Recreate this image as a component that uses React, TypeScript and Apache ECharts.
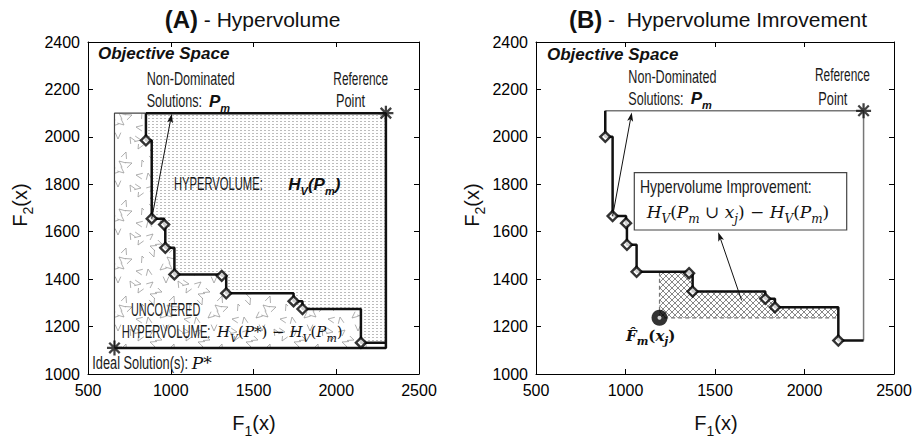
import React, { useEffect, useRef } from "react";
import * as echarts from "echarts";

// Axis ranges
const X_MIN = 500, X_MAX = 2500, X_STEP = 500;
const Y_MIN = 1000, Y_MAX = 2400, Y_STEP = 200;

// Panel A - Hypervolume
const A_F1 = [850, 885, 960, 967, 1022, 1308, 1335, 1742, 1796, 2149];
const A_F2 = [1985, 1655, 1630, 1532, 1420, 1414, 1340, 1307, 1274, 1132];
const A_REF = [2300, 2100];
const A_IDEAL = [660, 1110];
const A_ARROW = [885, 1655, 1006, 2097];

// Panel B - Hypervolume improvement
const B_F1 = [887, 928, 1003, 1008, 1062, 1355, 1375, 1781, 1835, 2189];
const B_F2 = [2000, 1666, 1636, 1545, 1431, 1425, 1348, 1317, 1281, 1141];
const B_REF = [2330, 2110];
const B_FM = [1190, 1237];
const B_ARROW = [928, 1666, 1035, 2103];
const B_BOX_ARROW = [1649, 1310, 1518, 1598];

const SANS = "'Liberation Sans', Arial, Helvetica, sans-serif";
const SERIF = "'DejaVu Serif', 'Liberation Serif', serif";

function stair(xs: number[], ys: number[], refX: number, refY: number) {
  const pts: number[][] = [[xs[0], refY]];
  for (let i = 0; i < xs.length; i++) {
    if (i > 0) pts.push([xs[i], ys[i - 1]]);
    pts.push([xs[i], ys[i]]);
  }
  pts.push([refX, ys[ys.length - 1]]);
  return pts;
}

function hviPolygon(xs: number[], ys: number[], fx: number, fy: number, refX: number) {
  const pts: number[][] = [[fx, fy]];
  let i = 0;
  for (let k = 0; k < xs.length; k++) if (xs[k] <= fx) i = k;
  pts.push([fx, ys[i]]);
  for (let k = i + 1; k < xs.length; k++) {
    pts.push([xs[k], ys[k - 1]]);
    if (ys[k] <= fy) {
      pts.push([xs[k], fy]);
      return pts;
    }
    pts.push([xs[k], ys[k]]);
  }
  pts.push([refX, ys[ys.length - 1]]);
  pts.push([refX, fy]);
  return pts;
}

function makeTile(w: number, h: number, draw: (ctx: CanvasRenderingContext2D) => void) {
  const c = document.createElement("canvas");
  c.width = w;
  c.height = h;
  const ctx = c.getContext("2d")!;
  ctx.fillStyle = "#fff";
  ctx.fillRect(0, 0, w, h);
  draw(ctx);
  return { image: c, repeat: "repeat", imageWidth: w, imageHeight: h } as any;
}

// texture glyphs (position in tile, orientation in degrees)
const CHEVRONS = [
  [6, 6, 20], [18, 4, 200], [30, 8, 110], [42, 5, 300],
  [10, 17, 250], [23, 17, 40], [36, 19, 160], [46, 16, 70],
  [4, 29, 80], [16, 30, 320], [28, 29, 220], [40, 31, 10],
  [9, 42, 140], [22, 43, 270], [34, 41, 60], [45, 44, 190],
];

const STAR =
  "path://M-0.9,-6L0.9,-6L0.9,6L-0.9,6Z M-6,-0.9L6,-0.9L6,0.9L-6,0.9Z M-3.55,-4.83L4.83,3.55L3.55,4.83L-4.83,-3.55Z M4.83,-3.55L-3.55,4.83L-4.83,3.55L3.55,-4.83Z";

function arrowRender(_p: any, api: any) {
  const p1 = api.coord([api.value(0), api.value(1)]);
  const p2 = api.coord([api.value(2), api.value(3)]);
  const dx = p2[0] - p1[0], dy = p2[1] - p1[1];
  const L = Math.hypot(dx, dy);
  const ux = dx / L, uy = dy / L;
  const hl = 9, hw = 3;
  const bx = p2[0] - ux * hl, by = p2[1] - uy * hl;
  return {
    type: "group",
    children: [
      { type: "line", shape: { x1: p1[0], y1: p1[1], x2: bx + ux * 2, y2: by + uy * 2 }, style: { stroke: "#111", lineWidth: 1 } },
      {
        type: "polygon",
        shape: { points: [[p2[0], p2[1]], [bx - uy * hw, by + ux * hw], [bx + ux * 2, by + uy * 2], [bx + uy * hw, by - ux * hw]] },
        style: { fill: "#111" },
      },
    ],
  };
}

function polySeries(xi: number, poly: number[][], style: any, z: number) {
  return {
    type: "custom",
    xAxisIndex: xi,
    yAxisIndex: xi,
    z,
    silent: true,
    data: [poly[0]],
    renderItem: (_p: any, api: any) => ({
      type: "polygon",
      shape: { points: poly.map((p) => api.coord(p)) },
      style,
    }),
  };
}

function lineSeries(xi: number, pts: number[][], color: string, width: number, z = 3) {
  return {
    type: "line",
    xAxisIndex: xi,
    yAxisIndex: xi,
    data: pts,
    symbol: "none",
    silent: true,
    z,
    lineStyle: { color, width },
  };
}

function axes(grid: number) {
  const tick = { show: true, inside: true, length: 5, lineStyle: { color: "#000" } };
  const line = { show: true, onZero: false, lineStyle: { color: "#000", width: 1 } };
  const label = { color: "#000", fontSize: 16, fontFamily: SANS, margin: 8, formatter: (v: number) => String(v) };
  const x = (pos: string, show: boolean) => ({
    type: "value", gridIndex: grid, position: pos, min: X_MIN, max: X_MAX, interval: X_STEP,
    axisLine: line, axisTick: tick, axisLabel: { ...label, show }, splitLine: { show: false },
  });
  const y = (pos: string, show: boolean) => ({
    type: "value", gridIndex: grid, position: pos, min: Y_MIN, max: Y_MAX, interval: Y_STEP,
    axisLine: line, axisTick: tick, axisLabel: { ...label, show }, splitLine: { show: false },
  });
  return { xs: [x("bottom", true), x("top", false)], ys: [y("left", true), y("right", false)] };
}

function cond(text: string, x: number, y: number, scaleX: number, size = 17.5) {
  return {
    type: "text", x, y, scaleX, z: 101,
    style: { text, fontFamily: SANS, fontSize: size, fill: "#1a1a1a", align: "left", verticalAlign: "middle", textAlign: "left", textVerticalAlign: "middle" },
  };
}

function rich(text: string, x: number, y: number, richStyle: any, extra: any = {}) {
  return {
    type: "text", x, y, z: 101, ...extra,
    style: { text, rich: richStyle, fill: "#111", align: extra.align || "left", verticalAlign: "middle", textAlign: extra.align || "left", textVerticalAlign: "middle" },
  };
}

const BI = (size: number, lh: number) => ({ fontFamily: SANS, fontWeight: "bold", fontStyle: "italic", fontSize: size, lineHeight: lh, fill: "#111" });
const BIS = (size: number) => ({ fontFamily: SANS, fontWeight: "bold", fontStyle: "italic", fontSize: size, lineHeight: size, verticalAlign: "bottom", fill: "#111" });
const MI = (size: number, lh: number) => ({ fontFamily: SERIF, fontStyle: "italic", fontSize: size, lineHeight: lh, fill: "#111" });
const MR = (size: number, lh: number) => ({ fontFamily: SERIF, fontSize: size, lineHeight: lh, fill: "#111" });
const MS = (size: number) => ({ fontFamily: SERIF, fontStyle: "italic", fontSize: size, lineHeight: size, verticalAlign: "bottom", fill: "#111" });

const MATH_RICH = { i: MI(17, 26), r: MR(17, 26), s: MS(12) };
const MATH_RICH_S = { i: MI(15, 25), r: MR(15, 25), s: MS(11) };
const PM_RICH = { b: BI(17, 24), s: BIS(11) };
const AXIS_RICH = {
  m: { fontFamily: SANS, fontSize: 20, lineHeight: 30, fill: "#111" },
  s: { fontFamily: SANS, fontSize: 14, lineHeight: 14, verticalAlign: "bottom", fill: "#111" },
};
const TITLE_RICH = {
  b: { fontFamily: SANS, fontSize: 24, fontWeight: "bold", fill: "#111" },
  n: { fontFamily: SANS, fontSize: 21, fill: "#111" },
};
const OBJ_RICH = { o: { fontFamily: SANS, fontWeight: "bold", fontStyle: "italic", fontSize: 17, fill: "#111" } };

export default function App() {
  const ref = useRef<HTMLDivElement>(null);
  useEffect(() => {
    if (!ref.current) return;
    const chart = echarts.init(ref.current, undefined, { renderer: "svg" });

    const dots = makeTile(4, 3, (ctx) => {
      ctx.fillStyle = "#bcbcbc";
      ctx.fillRect(0, 1, 2, 1);
    });
    const tris = makeTile(48, 48, (ctx) => {
      ctx.strokeStyle = "#9a9a9a";
      ctx.lineWidth = 0.8;
      for (const [cx, cy, a] of CHEVRONS) {
        const r = (a * Math.PI) / 180, d = (24 * Math.PI) / 180;
        ctx.beginPath();
        ctx.moveTo(cx + 7 * Math.cos(r - d), cy + 7 * Math.sin(r - d));
        ctx.lineTo(cx, cy);
        ctx.lineTo(cx + 7 * Math.cos(r + d), cy + 7 * Math.sin(r + d));
        ctx.stroke();
      }
    });
    const hatch = makeTile(6, 6, (ctx) => {
      ctx.strokeStyle = "#6a6a6a";
      ctx.lineWidth = 0.8;
      ctx.beginPath();
      ctx.moveTo(-1, -1); ctx.lineTo(7, 7);
      ctx.moveTo(7, -1); ctx.lineTo(-1, 7);
      ctx.stroke();
    });

    const stairA = stair(A_F1, A_F2, A_REF[0], A_REF[1]);
    const stairB = stair(B_F1, B_F2, B_REF[0], B_REF[1]);
    const hvA = [...stairA, [A_REF[0], A_REF[1]]];
    const outerA = [[A_IDEAL[0], A_IDEAL[1]], [A_REF[0], A_IDEAL[1]], [A_REF[0], A_REF[1]], [A_IDEAL[0], A_REF[1]]];
    const hviB = hviPolygon(B_F1, B_F2, B_FM[0], B_FM[1], B_REF[0]);

    const a0 = axes(0), a1 = axes(1);

    const diamonds = (xi: number, xs: number[], ys: number[]) => ({
      type: "scatter", xAxisIndex: xi, yAxisIndex: xi, z: 5, silent: true,
      data: xs.map((x, i) => [x, ys[i]]),
      symbol: "diamond", symbolSize: 10,
      itemStyle: { color: "#fff", borderColor: "#000", borderWidth: 2.4 },
    });

    const option: any = {
      animation: false,
      grid: [
        { left: 88, right: 498, top: 42, bottom: 66 },
        { left: 536, right: 23, top: 42, bottom: 66 },
      ],
      xAxis: [a0.xs[0], a1.xs[0], a0.xs[1], a1.xs[1]],
      yAxis: [a0.ys[0], a1.ys[0], a0.ys[1], a1.ys[1]],
      series: [
        // Panel A
        polySeries(0, outerA, { fill: tris, stroke: "none" }, 1),
        polySeries(0, hvA, { fill: dots, stroke: "none" }, 1),
        lineSeries(0, [[A_IDEAL[0], A_IDEAL[1]], [A_IDEAL[0], A_REF[1]], [A_F1[0], A_REF[1]]], "#444", 1.2),
        lineSeries(0, [[A_F1[0], A_REF[1]], [A_REF[0], A_REF[1]], [A_REF[0], A_IDEAL[1]], [A_IDEAL[0], A_IDEAL[1]]], "#111", 2.5),
        lineSeries(0, stairA, "#111", 2.5),
        diamonds(0, A_F1, A_F2),
        {
          type: "scatter", xAxisIndex: 0, yAxisIndex: 0, z: 6, silent: true,
          data: [A_REF, A_IDEAL], symbol: STAR, symbolSize: 15, itemStyle: { color: "#111" },
        },
        { type: "custom", xAxisIndex: 0, yAxisIndex: 0, z: 6, silent: true, data: [A_ARROW], encode: { x: [0, 2], y: [1, 3] }, renderItem: arrowRender },
        // Panel B
        polySeries(1, hviB, { fill: hatch, stroke: "#777", lineWidth: 1.2, lineDash: [4, 3] }, 1),
        lineSeries(1, [[B_F1[0], B_REF[1]], [B_REF[0], B_REF[1]], [B_REF[0], B_F2[B_F2.length - 1]]], "#777", 1.5),
        lineSeries(1, stairB, "#111", 2.5),
        diamonds(1, B_F1, B_F2),
        {
          type: "scatter", xAxisIndex: 1, yAxisIndex: 1, z: 6, silent: true,
          data: [B_REF], symbol: STAR, symbolSize: 15, itemStyle: { color: "#111" },
        },
        {
          type: "scatter", xAxisIndex: 1, yAxisIndex: 1, z: 6, silent: true,
          data: [B_FM], symbol: "circle", symbolSize: 16, itemStyle: { color: "#000" },
        },
        {
          type: "scatter", xAxisIndex: 1, yAxisIndex: 1, z: 7, silent: true,
          data: [B_FM], symbol: "circle", symbolSize: 4, itemStyle: { color: "#fff" },
        },
        { type: "custom", xAxisIndex: 1, yAxisIndex: 1, z: 6, silent: true, data: [B_ARROW, B_BOX_ARROW], encode: { x: [0, 2], y: [1, 3] }, renderItem: arrowRender },
      ],
      graphic: [
        rich("{b|(A)}{n| - Hypervolume}", 252.5, 19, TITLE_RICH, { align: "center" }),
        rich("{b|(B)}{n| -  Hypervolume Imrovement}", 718, 19, TITLE_RICH, { align: "center" }),
        // Objective space labels
        rich("{o|Objective Space}", 98, 53, OBJ_RICH),
        rich("{o|Objective Space}", 547, 54, OBJ_RICH),
        // Panel A annotations
        cond("Non-Dominated", 146.7, 79, 0.72),
        cond("Solutions:", 146.7, 101, 0.72),
        rich("{b|P}{s|m}", 209, 101, PM_RICH),
        cond("Reference", 333.3, 78.3, 0.68),
        cond("Point", 336, 101, 0.73),
        cond("HYPERVOLUME:", 174, 184, 0.64),
        rich("{b|H}{s|V}{b|(P}{s|m}{b|)}", 288.3, 184, PM_RICH),
        cond("UNCOVERED", 131, 310, 0.62),
        cond("HYPERVOLUME:", 121.7, 331.7, 0.64),
        rich("{i|H}{s|V}{r|(}{i|P}{r|*) − }{i|H}{s|V}{r|(}{i|P}{s|m}{r|)}", 217, 331.7, MATH_RICH_S),
        cond("Ideal Solution(s):", 92.3, 362.7, 0.73),
        rich("{i|P}{r|*}", 191.7, 362.7, MATH_RICH),
        // Panel B annotations
        cond("Non-Dominated", 628.3, 77, 0.72),
        cond("Solutions:", 628.3, 98.3, 0.72),
        rich("{b|P}{s|m}", 690.7, 98.3, PM_RICH),
        cond("Reference", 815, 75, 0.68),
        cond("Point", 818.3, 98.3, 0.73),
        { type: "rect", z: 100, shape: { x: 634.3, y: 172.7, width: 212.4, height: 57.3 }, style: { fill: "#fff", stroke: "#444", lineWidth: 1.2 } },
        cond("Hypervolume Improvement:", 640, 186.7, 0.8),
        rich("{i|H}{s|V}{r|(}{i|P}{s|m}{r| ∪ }{i|x}{s|j}{r|) − }{i|H}{s|V}{r|(}{i|P}{s|m}{r|)}", 646.7, 211.7, MATH_RICH),
        rich("{i|F̂}{s|m}{r|(}{i|x}{s|j}{r|)}", 626, 336, { i: { ...MI(15, 22), fontWeight: "bold" }, r: { ...MR(15, 22), fontWeight: "bold" }, s: { ...MS(11), fontWeight: "bold" } }),
        // Axis names
        rich("{m|F}{s|1}{m|(x)}", 254, 423, AXIS_RICH, { align: "center" }),
        rich("{m|F}{s|1}{m|(x)}", 716, 423, AXIS_RICH, { align: "center" }),
        rich("{m|F}{s|2}{m|(x)}", 20, 205, AXIS_RICH, { align: "center", rotation: Math.PI / 2 }),
        rich("{m|F}{s|2}{m|(x)}", 472, 205, AXIS_RICH, { align: "center", rotation: Math.PI / 2 }),
      ],
    };
    chart.setOption(option);
    return () => chart.dispose();
  }, []);
  return <div ref={ref} style={{ position: "absolute", left: 0, top: 0, width: 917, height: 440, background: "#fff" }} />;
}
